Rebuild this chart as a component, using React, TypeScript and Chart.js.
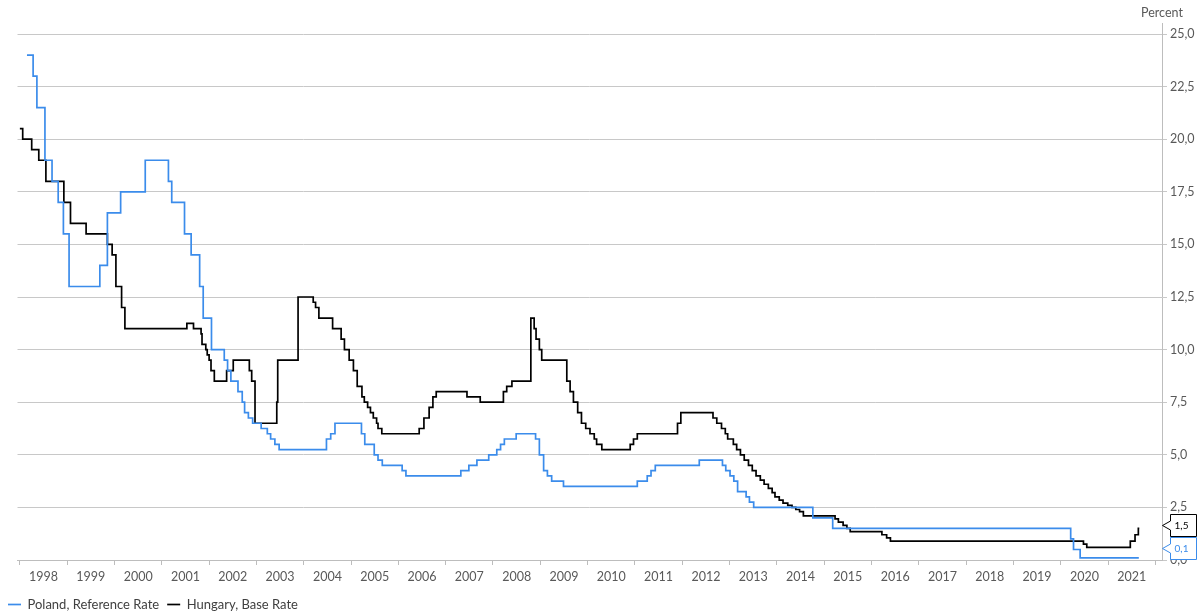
import React, { useEffect, useRef } from 'react';
import { Chart, registerables } from 'chart.js';

Chart.register(...registerables);

const seriesNames = ['Poland, Reference Rate', 'Hungary, Base Rate'];
const unitLabel = 'Percent';
const yearTicks = [1998, 1999, 2000, 2001, 2002, 2003, 2004, 2005, 2006, 2007, 2008, 2009, 2010, 2011, 2012, 2013, 2014, 2015, 2016, 2017, 2018, 2019, 2020, 2021, 2022];
const yearLabels = ['1998', '1999', '2000', '2001', '2002', '2003', '2004', '2005', '2006', '2007', '2008', '2009', '2010', '2011', '2012', '2013', '2014', '2015', '2016', '2017', '2018', '2019', '2020', '2021'];
const yTickValues = [0, 2.5, 5, 7.5, 10, 12.5, 15, 17.5, 20, 22.5, 25];

const polandDates = [
  1998.15, 1998.28, 1998.36, 1998.53, 1998.68, 1998.81, 1998.92, 1999.04, 1999.69, 1999.85,
  2000.13, 2000.65, 2001.14, 2001.21, 2001.48, 2001.62, 2001.80, 2001.875, 2002.05, 2002.32,
  2002.39, 2002.46, 2002.61, 2002.70, 2002.75, 2002.83, 2002.92, 2003.10, 2003.23, 2003.30,
  2003.39, 2003.48, 2004.48, 2004.57, 2004.66, 2005.22, 2005.29, 2005.49, 2005.57, 2005.66,
  2006.08, 2006.16, 2007.32, 2007.49, 2007.66, 2007.91, 2008.08, 2008.16, 2008.24, 2008.49,
  2008.90, 2008.98, 2009.07, 2009.15, 2009.24, 2009.49, 2011.05, 2011.26, 2011.34, 2011.43,
  2012.36, 2012.85, 2012.92, 2013.01, 2013.09, 2013.17, 2013.35, 2013.42, 2013.51, 2014.76,
  2015.18, 2020.21, 2020.27, 2020.41, 2021.65,
];
const polandRates = [
  24, 23, 21.5, 19, 18, 17, 15.5, 13, 14, 16.5,
  17.5, 19, 18, 17, 15.5, 14.5, 13, 11.5, 10, 9.5,
  9, 8.5, 8, 7.5, 7, 6.75, 6.5, 6.25, 6, 5.75,
  5.5, 5.25, 5.75, 6, 6.5, 6, 5.5, 5, 4.75, 4.5,
  4.25, 4, 4.25, 4.5, 4.75, 5, 5.25, 5.5, 5.75, 6,
  5.75, 5, 4.25, 4, 3.75, 3.5, 3.75, 4, 4.25, 4.5,
  4.75, 4.5, 4.25, 4, 3.75, 3.25, 3, 2.75, 2.5, 2,
  1.5, 1, 0.5, 0.1, 0.1,
];

const hungaryDates = [
  1998.00, 1998.06, 1998.25, 1998.40, 1998.55, 1998.93, 1999.07, 1999.40, 1999.85, 1999.95,
  2000.03, 2000.15, 2000.22, 2001.53, 2001.67, 2001.83, 2001.85, 2001.93, 2001.96, 2002.00,
  2002.04, 2002.11, 2002.37, 2002.51, 2002.85, 2002.90, 2002.97, 2003.43, 2003.45, 2003.88,
  2004.20, 2004.25, 2004.32, 2004.61, 2004.79, 2004.86, 2004.96, 2005.05, 2005.13, 2005.23,
  2005.28, 2005.35, 2005.41, 2005.47, 2005.54, 2005.57, 2005.65, 2006.44, 2006.54, 2006.65,
  2006.73, 2006.80, 2007.45, 2007.73, 2008.22, 2008.29, 2008.40, 2008.80, 2008.87, 2008.91,
  2008.98, 2009.03, 2009.56, 2009.63, 2009.70, 2009.79, 2009.87, 2009.96, 2010.05, 2010.14,
  2010.19, 2010.30, 2010.90, 2010.97, 2011.05, 2011.90, 2011.97, 2012.65, 2012.73, 2012.83,
  2012.91, 2012.96, 2013.08, 2013.15, 2013.23, 2013.31, 2013.40, 2013.48, 2013.56, 2013.65,
  2013.73, 2013.82, 2013.90, 2013.96, 2014.05, 2014.13, 2014.23, 2014.32, 2014.40, 2014.48,
  2014.56, 2015.23, 2015.30, 2015.40, 2015.48, 2015.55, 2016.22, 2016.32, 2016.40, 2020.48,
  2020.55, 2021.47, 2021.57, 2021.64, 2021.66,
];
const hungaryRates = [
  20.5, 20, 19.5, 19, 18, 17, 16, 15.5, 15, 14.5,
  13, 12, 11, 11.25, 11, 10.75, 10.25, 10, 9.75, 9.5,
  9, 8.5, 9, 9.5, 9, 8.5, 6.5, 7.5, 9.5, 12.5,
  12.25, 12, 11.5, 11, 10.5, 10, 9.5, 9, 8.25, 7.75,
  7.5, 7.25, 7, 6.75, 6.5, 6.25, 6, 6.25, 6.75, 7.25,
  7.75, 8, 7.75, 7.5, 8, 8.25, 8.5, 11.5, 11, 10.5,
  10, 9.5, 8.5, 8, 7.5, 7, 6.5, 6.25, 6, 5.75,
  5.5, 5.25, 5.5, 5.75, 6, 6.5, 7, 6.75, 6.5, 6.25,
  6, 5.75, 5.5, 5.25, 5, 4.75, 4.5, 4.25, 4, 3.8,
  3.6, 3.4, 3.2, 3, 2.85, 2.7, 2.6, 2.5, 2.4, 2.3,
  2.1, 1.95, 1.8, 1.65, 1.5, 1.35, 1.2, 1.05, 0.9, 0.75,
  0.6, 0.9, 1.2, 1.5, 1.5,
];

const BLUE = '#3b8ceb';
const BLACK = '#000000';
const GRID = '#c8c8c8';
const AXIS = '#bdbdbd';
const TEXT = '#595959';
const FONT = 'Lato';

const fmt = (v: number) => v.toFixed(1).replace('.', ',');

export default function App() {
  const ref = useRef<HTMLCanvasElement>(null);

  useEffect(() => {
    document.body.style.margin = '0';
    const canvas = ref.current;
    if (!canvas) return;

    const decorations = {
      id: 'decorations',
      afterDraw(chart: any) {
        const { ctx, chartArea } = chart;
        const yScale = chart.scales.y;
        ctx.save();
        // axis line extends a little above the top gridline
        ctx.strokeStyle = AXIS;
        ctx.lineWidth = 1;
        ctx.beginPath();
        ctx.moveTo(chartArea.right + 0.5, chartArea.top - 11);
        ctx.lineTo(chartArea.right + 0.5, chartArea.top);
        ctx.stroke();

        // unit label above the value axis
        ctx.fillStyle = TEXT;
        ctx.font = `12.5px ${FONT}`;
        ctx.textAlign = 'center';
        ctx.textBaseline = 'middle';
        ctx.fillText(unitLabel, chartArea.right, 13);

        // end-value callouts
        const items = chart.data.datasets.map((ds: any) => {
          const d = ds.data[ds.data.length - 1];
          return { value: d.y, color: ds.borderColor, y: yScale.getPixelForValue(d.y), c: 0 };
        });
        items.sort((a: any, b: any) => b.y - a.y);
        const h = 23;
        let limit = chartArea.bottom;
        for (const it of items) {
          const c = Math.min(it.y, limit - h / 2);
          it.c = c;
          limit = c - h / 2;
        }
        for (const it of items) {
          const tip = chartArea.right;
          const left = tip + 8;
          const right = left + 26;
          const top = it.c - h / 2;
          const bottom = it.c + h / 2;
          ctx.beginPath();
          ctx.moveTo(left + 0.5, top + 0.5);
          ctx.lineTo(right + 0.5, top + 0.5);
          ctx.lineTo(right + 0.5, bottom - 0.5);
          ctx.lineTo(left + 0.5, bottom - 0.5);
          ctx.lineTo(left + 0.5, it.c + 4.5);
          ctx.lineTo(tip + 0.5, it.c);
          ctx.lineTo(left + 0.5, it.c - 4.5);
          ctx.closePath();
          ctx.fillStyle = '#ffffff';
          ctx.fill();
          ctx.strokeStyle = it.color;
          ctx.lineWidth = 1;
          ctx.stroke();
          ctx.fillStyle = it.color;
          ctx.font = `10px ${FONT}`;
          ctx.textAlign = 'center';
          ctx.textBaseline = 'middle';
          ctx.fillText(fmt(it.value), (left + right) / 2 - 1.5, it.c);
        }
        ctx.restore();
      },
    };

    const chart = new Chart(canvas, {
      type: 'line',
      data: {
        datasets: [
          {
            label: seriesNames[0],
            data: polandDates.map((d, i) => ({ x: d, y: polandRates[i] })),
            borderColor: BLUE,
            backgroundColor: BLUE,
            borderWidth: 1.7,
            pointRadius: 0,
            stepped: 'before',
            fill: false,
            xAxisID: 'x',
            yAxisID: 'y',
          },
          {
            label: seriesNames[1],
            data: hungaryDates.map((d, i) => ({ x: d, y: hungaryRates[i] })),
            borderColor: BLACK,
            backgroundColor: BLACK,
            borderWidth: 1.7,
            pointRadius: 0,
            stepped: 'before',
            fill: false,
            xAxisID: 'x',
            yAxisID: 'y',
          },
        ],
      },
      options: {
        responsive: false,
        animation: false,
        events: [],
        layout: { padding: { left: 0, right: 0, top: 34, bottom: -6 } },
        plugins: {
          legend: {
            position: 'bottom',
            align: 'start',
            labels: {
              usePointStyle: true,
              pointStyle: 'line',
              pointStyleWidth: 13,
              boxWidth: 13,
              padding: 8,
              color: '#404040',
              font: { family: FONT, size: 13 },
            },
          },
          title: { display: false },
          tooltip: { enabled: false },
        },
        scales: {
          x: {
            type: 'linear',
            position: 'bottom',
            min: 1997.95,
            max: 2022.14,
            afterBuildTicks: (s: any) => {
              s.ticks = yearTicks.map((v) => ({ value: v }));
            },
            afterFit: (s: any) => {
              s.height = 30;
            },
            ticks: {
              autoSkip: false,
              maxRotation: 0,
              minRotation: 0,
              labelOffset: 23.65,
              padding: 4,
              color: TEXT,
              font: { family: FONT, size: 12.5 },
              callback: (_v: any, i: number) => (i < yearLabels.length ? yearLabels[i] : ''),
            },
            grid: { drawOnChartArea: false, drawTicks: true, tickLength: 5, color: AXIS },
            border: { color: AXIS },
          },
          yl: {
            type: 'linear',
            position: 'left',
            display: true,
            grid: { display: false },
            border: { display: false },
            ticks: { display: false },
            afterFit: (s: any) => {
              s.width = 17.5;
            },
          },
          y: {
            type: 'linear',
            position: 'right',
            min: 0,
            max: 25,
            afterBuildTicks: (s: any) => {
              s.ticks = yTickValues.map((v) => ({ value: v }));
            },
            afterFit: (s: any) => {
              s.width = 42;
            },
            ticks: {
              padding: 3,
              color: TEXT,
              font: { family: FONT, size: 12.5 },
              callback: (v: any) => fmt(Number(v)),
            },
            grid: { color: GRID, tickLength: 5 },
            border: { color: AXIS },
          },
        },
      },
      plugins: [decorations],
    } as any);

    return () => chart.destroy();
  }, []);

  return <canvas ref={ref} width={1204} height={615} style={{ display: 'block' }} />;
}
